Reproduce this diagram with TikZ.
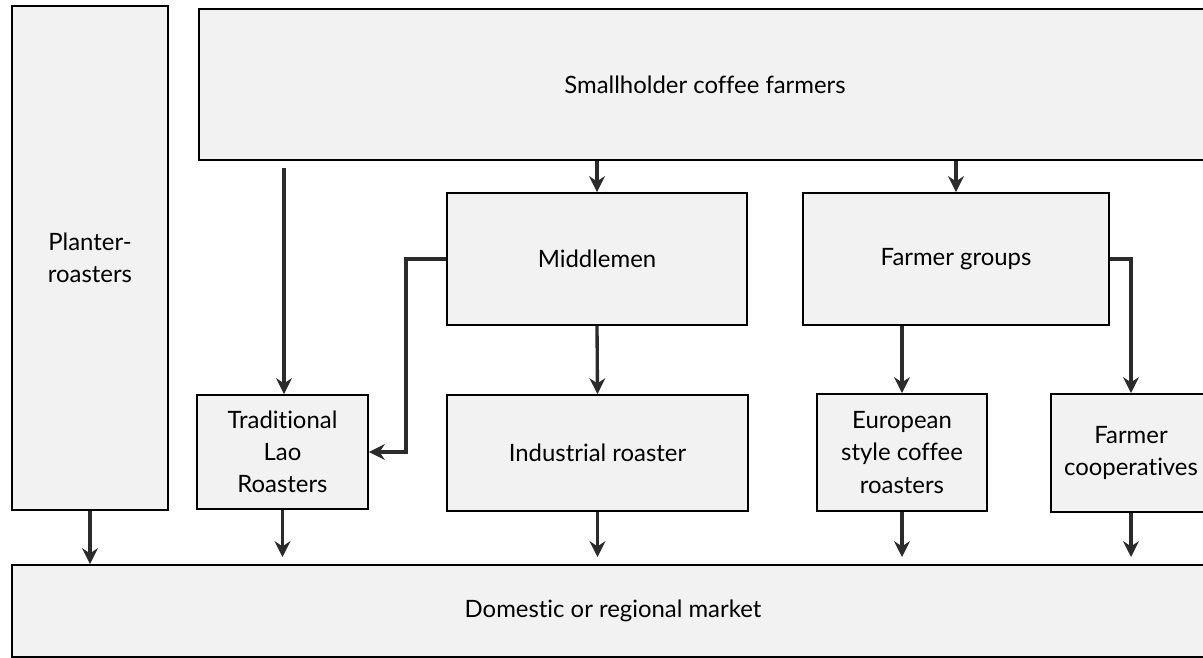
\documentclass[tikz,border=0pt]{standalone}
\usepackage{fontspec}
\setmainfont[Ligatures=NoCommon]{Lato}
\usetikzlibrary{arrows.meta,positioning}
\definecolor{boxfill}{RGB}{242,242,242}
\definecolor{boxline}{RGB}{0,0,0}
\definecolor{flowgray}{RGB}{43,43,43}

\begin{document}
\begin{tikzpicture}[
  x=0.02cm, y=-0.02cm,
  >=Stealth,
  font=\fontsize{13.6}{18.3}\selectfont,
  stage/.style={
    rectangle, draw=boxline, fill=boxfill, line width=1.1pt,
    align=center, inner sep=2pt
  },
  flow/.style={->, line width=1.9pt, flowgray, >={Stealth[length=9pt,width=9pt]}}
]

% =====================================================================
% Canvas
% =====================================================================
\useasboundingbox (0,0) rectangle (1203,658);
\clip (0,0) rectangle (1203,658);

% =====================================================================
% Stages
% =====================================================================
\node[stage, minimum width=3.12cm, minimum height=10.08cm] (planter) at (90,258)
  {Planter-\\roasters};
\node[stage, minimum width=20.24cm, minimum height=3.02cm] (smallholder) at (705,84.5)
  {Smallholder coffee farmers};

\node[stage, minimum width=6cm, minimum height=2.64cm] (middlemen) at (597,259)
  {Middlemen};
\node[stage, minimum width=6.12cm, minimum height=2.64cm] (farmergroups) at (956,259)
  {Farmer groups};

\node[stage, minimum width=3.42cm, minimum height=2.28cm] (tradlao) at (282.5,452)
  {Traditional\\Lao\\Roasters};
\node[stage, minimum width=6.02cm, minimum height=2.32cm] (industrial) at (597.5,453)
  {Industrial roaster};
\node[stage, minimum width=3.4cm, minimum height=2.34cm] (european) at (902,452.5)
  {European\\style coffee\\roasters};
\node[stage, minimum width=3.2cm, minimum height=2.36cm] (coops) at (1131,453)
  {Farmer\\cooperatives};

\node[stage, minimum width=24.04cm, minimum height=1.84cm] (market) at (613,611)
  {Domestic or regional market};

% =====================================================================
% Flows
% =====================================================================

% farmers -> traditional roasters (starts just below the farmer box)
\coordinate (tradstart) at (284,168);
\draw[flow] (tradstart) -- (tradstart |- tradlao.north);

% farmers -> middlemen / farmer groups
\draw[flow] (middlemen.north |- smallholder.south) -- (middlemen.north);
\draw[flow] (farmergroups.north |- smallholder.south) -- (farmergroups.north);

% middlemen -> traditional roasters / industrial roaster
\draw[flow] (middlemen.west) -- ++(-40,0) |- (tradlao.east);
\draw[flow] (middlemen.south) -- (industrial.north);

% farmer groups -> european roasters / cooperatives
\draw[flow] (european.north |- farmergroups.south) -- (european.north);
\draw[flow] (farmergroups.east) -| (coops.north);

% everything -> market
\draw[flow] (planter.south) -- (planter.south |- market.north);
\foreach \src in {tradlao,industrial,european,coops}
  \draw[flow, shorten >=4pt] (\src.south) -- (\src.south |- market.north);

\end{tikzpicture}
\end{document}
